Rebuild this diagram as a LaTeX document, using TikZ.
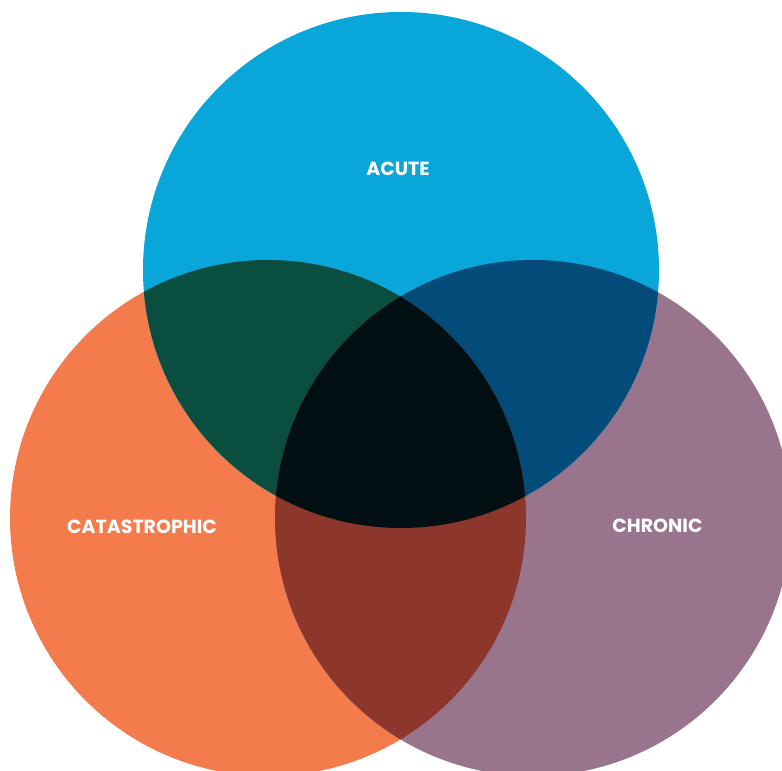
\documentclass[tikz,border=0pt]{standalone}
\usepackage{fontspec}
\setmainfont{Poppins}
\definecolor{cblue}{HTML}{09A6D9}
\definecolor{corange}{HTML}{F37B4C}
\definecolor{cpurple}{HTML}{99758D}
\definecolor{cbo}{HTML}{0A4E3F}
\definecolor{cbp}{HTML}{034B78}
\definecolor{cop}{HTML}{8D362B}
\definecolor{call}{HTML}{021014}
\tikzset{lbl/.style={text=white,font=\bfseries\fontsize{19}{21}\selectfont,inner sep=0pt}}
\begin{document}
\begin{tikzpicture}[x=1pt,y=-1pt]
\useasboundingbox (0,0) rectangle (782,771);
\clip (0,0) rectangle (782,771);
\coordinate (B) at (401,270);
\coordinate (O) at (268,518);
\coordinate (P) at (533,518);
\def\R{258}
\fill[corange] (O) circle[radius=\R];
\fill[cpurple] (P) circle[radius=\R];
\fill[cblue] (B) circle[radius=\R];
\begin{scope}
\clip (B) circle[radius=\R];
\fill[cbo] (O) circle[radius=\R];
\fill[cbp] (P) circle[radius=\R];
\end{scope}
\begin{scope}
\clip (O) circle[radius=\R];
\fill[cop] (P) circle[radius=\R];
\clip (P) circle[radius=\R];
\fill[call] (B) circle[radius=\R];
\end{scope}
\node[lbl] (acute) at (398,169) {ACUTE};
\node[lbl] (cat) at (142,527) {CATASTROPHIC};
\node[lbl] (chr) at (657.5,526) {CHRONIC};
\end{tikzpicture}
\end{document}
